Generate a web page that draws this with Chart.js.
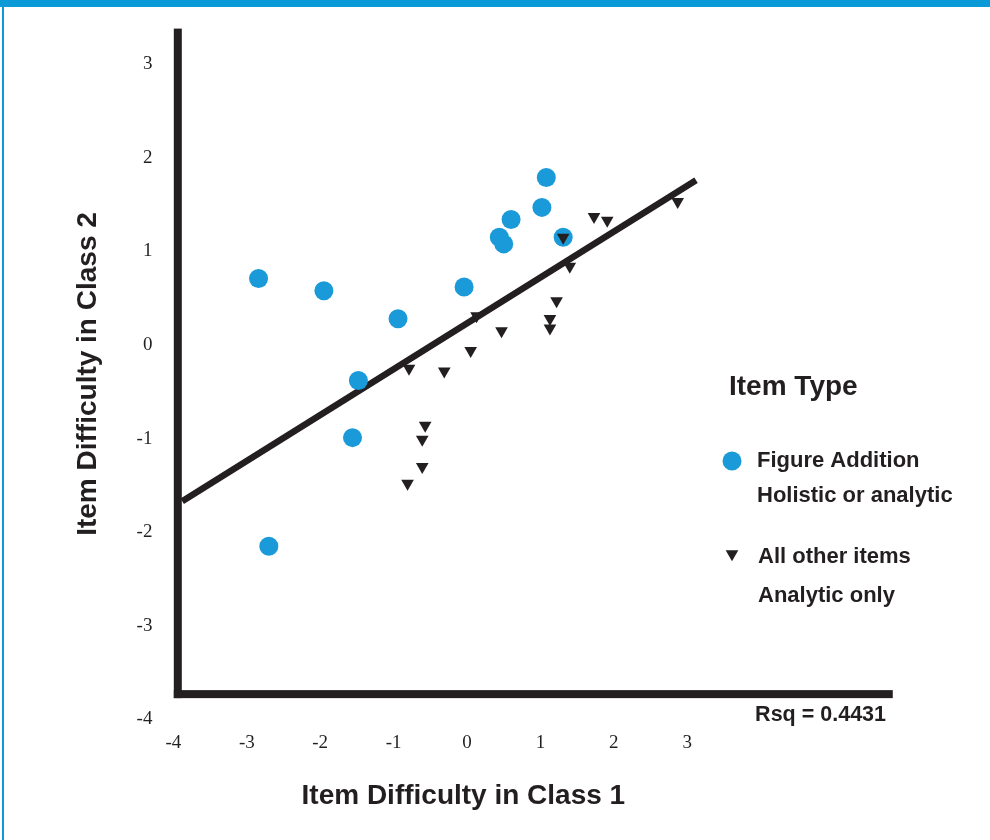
<!DOCTYPE html>
<html>
<head>
<meta charset="utf-8">
<script src="https://cdn.jsdelivr.net/npm/chart.js@4.4.1/dist/chart.umd.min.js"></script>
<style>
    html, body { margin: 0; padding: 0; background: #fff; }
    #wrap { width: 990px; height: 840px; }
</style>
</head>
<body>
<div id="wrap"><canvas id="chartDifficulty" width="990" height="840"></canvas></div>
<script>
// Figure Addition items (holistic or analytic)
const figureX = [-2.84, -1.95, -0.94, -0.04, 0.44, 0.50, 0.60, 1.02, 1.08, 1.31, -1.48, -1.56, -2.70];
const figureY = [0.71, 0.58, 0.28, 0.62, 1.15, 1.08, 1.34, 1.47, 1.79, 1.15, -0.38, -0.99, -2.15];

// All other items (analytic only)
const otherX = [1.31, 1.40, 1.22, 1.13, 1.13, 0.47, 0.13, 0.05, -0.31, -0.79, 1.73, 1.91, 2.87, -0.57, -0.61, -0.61, -0.81];
const otherY = [1.15, 0.84, 0.47, 0.28, 0.18, 0.15, 0.31, -0.06, -0.28, -0.25, 1.37, 1.33, 1.53, -0.86, -1.01, -1.30, -1.48];

// regression line end points
const fitX = [-3.88, 3.12];
const fitY = [-1.67, 1.76];

const xTicks = [-4, -3, -2, -1, 0, 1, 2, 3];
const yTicks = [-4, -3, -2, -1, 0, 1, 2, 3];

const ink = '#231f20';
const blue = '#1a9ad8';

function toPoints(xs, ys) {
    return xs.map((x, i) => ({ x: x, y: ys[i] }));
}

const framePlugin = {
    id: 'frame',
    beforeDraw(chart) {
        const ctx = chart.ctx;
        ctx.save();
        ctx.fillStyle = '#fff';
        ctx.fillRect(0, 0, chart.width, chart.height);
        ctx.fillStyle = '#0b9ad8';
        ctx.fillRect(0, 0, chart.width, 7);
        ctx.fillRect(2, 0, 2, chart.height);
        ctx.restore();
    },
    beforeDatasetsDraw(chart) {
        const ctx = chart.ctx;
        const xs = chart.scales.x;
        const ys = chart.scales.y;
        const left = xs.getPixelForValue(-3.94);
        const base = ys.getPixelForValue(-3.73);
        const top = ys.getPixelForValue(3.38);
        const right = xs.getPixelForValue(5.8);
        ctx.save();
        ctx.fillStyle = ink;
        ctx.fillRect(left - 4, top, 8, base + 4 - top);
        ctx.fillRect(left - 4, base - 4, right - left + 4, 8);
        ctx.restore();
    },
    afterDraw(chart) {
        const ctx = chart.ctx;
        ctx.save();
        ctx.fillStyle = ink;
        ctx.textBaseline = 'alphabetic';
        ctx.textAlign = 'left';
        ctx.font = 'bold 28px "Liberation Sans", Arial, sans-serif';
        ctx.fillText('Item Type', 729, 395);

        ctx.font = 'bold 22px "Liberation Sans", Arial, sans-serif';
        ctx.fillText('Figure Addition', 757, 467);
        ctx.fillText('Holistic or analytic', 757, 502);
        ctx.fillText('All other items', 758, 563);
        ctx.fillText('Analytic only', 758, 602);
        ctx.textAlign = 'right';
        ctx.font = 'bold 21.5px "Liberation Sans", Arial, sans-serif';
        ctx.fillText('Rsq = 0.4431', 886, 721);

        // legend markers
        ctx.fillStyle = blue;
        ctx.beginPath();
        ctx.arc(732, 461, 9.5, 0, Math.PI * 2);
        ctx.fill();

        ctx.fillStyle = ink;
        const r = 7.3;
        ctx.beginPath();
        ctx.moveTo(732 - r * 0.866, 554 - r / 2);
        ctx.lineTo(732 + r * 0.866, 554 - r / 2);
        ctx.lineTo(732, 554 + r);
        ctx.closePath();
        ctx.fill();
        ctx.restore();
    }
};

const tickFont = { family: '"Liberation Serif", "Times New Roman", serif', size: 19 };
const titleFont = { family: '"Liberation Sans", Arial, sans-serif', size: 28, weight: 'bold', lineHeight: 1.2 };

new Chart(document.getElementById('chartDifficulty'), {
    type: 'scatter',
    data: {
        datasets: [
            {
                label: 'All other items',
                data: toPoints(otherX, otherY),
                pointStyle: 'triangle',
                rotation: 180,
                pointRadius: 7.3,
                backgroundColor: ink,
                borderWidth: 0,
                order: 0
            },
            {
                label: 'Figure Addition',
                data: toPoints(figureX, figureY),
                pointStyle: 'circle',
                pointRadius: 9.5,
                backgroundColor: blue,
                borderWidth: 0,
                order: 1
            },
            {
                type: 'line',
                label: 'Fit',
                data: toPoints(fitX, fitY),
                borderColor: ink,
                borderWidth: 6.5,
                pointRadius: 0,
                fill: false,
                order: 2
            }
        ]
    },
    options: {
        responsive: false,
        animation: false,
        events: [],
        layout: {
            padding: { left: 0, right: 236.7, top: 28.6, bottom: 0 }
        },
        plugins: {
            legend: { display: false },
            tooltip: { enabled: false }
        },
        scales: {
            x: {
                type: 'linear',
                min: -4,
                max: 3.9,
                afterBuildTicks(scale) {
                    scale.ticks = xTicks.map(v => ({ value: v }));
                },
                afterFit(scale) {
                    scale.height = 120.6;
                },
                grid: { display: false, drawTicks: true, tickLength: 12 },
                border: { display: false },
                ticks: {
                    padding: 0,
                    color: ink,
                    font: tickFont,
                    autoSkip: false,
                    maxRotation: 0
                },
                title: {
                    display: true,
                    text: 'Item Difficulty in Class 1',
                    color: ink,
                    font: titleFont,
                    padding: { top: 0, bottom: 27 }
                }
            },
            y: {
                type: 'linear',
                min: -4,
                max: 3.38,
                afterBuildTicks(scale) {
                    scale.ticks = yTicks.map(v => ({ value: v }));
                },
                afterFit(scale) {
                    scale.width = 173.4;
                },
                grid: { display: false, drawTicks: true, tickLength: 21 },
                border: { display: false },
                ticks: {
                    padding: 0,
                    color: ink,
                    font: tickFont,
                    autoSkip: false
                },
                title: {
                    display: true,
                    text: 'Item Difficulty in Class 2',
                    color: ink,
                    font: titleFont,
                    padding: { top: 71, bottom: 0 }
                }
            }
        }
    },
    plugins: [framePlugin]
});
</script>
</body>
</html>
